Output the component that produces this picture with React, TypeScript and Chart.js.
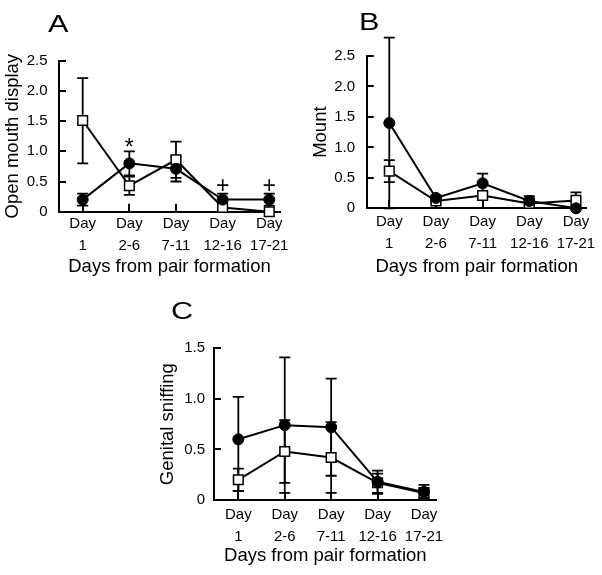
import React, { useEffect, useRef } from "react";
import { Chart, registerables } from "chart.js";

Chart.register(...registerables);

// ---------- data ----------
const dayLabels: string[][] = [
  ["Day", "1"],
  ["Day", "2-6"],
  ["Day", "7-11"],
  ["Day", "12-16"],
  ["Day", "17-21"],
];
const xAxisTitle = "Days from pair formation";

// A: Open mouth display
const openMouthFilled = [0.2, 0.8, 0.71, 0.2, 0.2];
const openMouthFilledLow = [0.1, 0.6, 0.5, 0.1, 0.1];
const openMouthFilledHigh = [0.3, 1.0, 0.91, 0.3, 0.3];
const openMouthOpen = [1.51, 0.43, 0.86, 0.07, 0.0];
const openMouthOpenLow = [0.8, 0.28, 0.56, 0.07, 0.0];
const openMouthOpenHigh = [2.21, 0.58, 1.16, 0.07, 0.0];
const openMouthMarkText = ["", "*", "", "+", "+"];
const openMouthMarkValue = [null, 1.16, null, 0.45, 0.45];
const openMouthTicks = [0, 0.5, 1, 1.5, 2, 2.5];

// B: Mount
const mountFilled = [1.4, 0.17, 0.41, 0.12, 0.0];
const mountFilledLow = [0.0, 0.13, 0.24, 0.05, 0.0];
const mountFilledHigh = [2.8, 0.21, 0.57, 0.2, 0.0];
const mountOpen = [0.61, 0.12, 0.21, 0.08, 0.13];
const mountOpenLow = [0.43, 0.09, 0.16, 0.05, 0.0];
const mountOpenHigh = [0.79, 0.15, 0.26, 0.11, 0.26];
const mountTicks = [0, 0.5, 1, 1.5, 2, 2.5];

// C: Genital sniffing
const sniffFilled = [0.6, 0.74, 0.72, 0.18, 0.08];
const sniffFilledLow = [0.09, 0.07, 0.24, 0.07, 0.01];
const sniffFilledHigh = [1.02, 1.41, 1.2, 0.29, 0.15];
const sniffOpen = [0.2, 0.48, 0.42, 0.17, 0.07];
const sniffOpenLow = [0.09, 0.17, 0.07, 0.06, 0.02];
const sniffOpenHigh = [0.31, 0.79, 0.77, 0.26, 0.12];
const sniffTicks = [0, 0.5, 1, 1.5];

const FONT = "'Liberation Sans', Arial, Helvetica, sans-serif";

type Series = { values: number[]; low: number[]; high: number[]; filled: boolean };

type PanelProps = {
  letter: string;
  yTitle: string;
  yTicks: number[];
  series: Series[];
  markText?: string[];
  markValue?: (number | null)[];
  geom: {
    left: number; top: number; w: number; h: number;
    pad: { left: number; top: number; right: number; bottom: number };
    yWidth: number; xHeight: number;
    yTitlePad: number; yTickPad: number; xTickPad: number;
    xMin: number; xMax: number;
    letterLeft: number; letterTop: number;
  };
};

function Panel(p: PanelProps) {
  const ref = useRef<HTMLCanvasElement>(null);
  useEffect(() => {
    if (!ref.current) return;
    const g = p.geom;
    const decor = {
      id: "decor" + p.letter,
      beforeDatasetsDraw(chart: any) {
        const { ctx, chartArea } = chart;
        const xs = chart.scales.x;
        const ys = chart.scales.y;
        ctx.save();
        ctx.strokeStyle = "#000";
        ctx.lineWidth = 2;
        ctx.beginPath();
        ys.ticks.forEach((t: any) => {
          const py = Math.round(ys.getPixelForValue(t.value));
          ctx.moveTo(chartArea.left, py);
          ctx.lineTo(chartArea.left + 7, py);
        });
        xs.ticks.forEach((t: any) => {
          const px = Math.round(xs.getPixelForValue(t.value));
          ctx.moveTo(px, chartArea.bottom);
          ctx.lineTo(px, chartArea.bottom - 8);
        });
        ctx.stroke();
        // error bars
        ctx.lineWidth = 1.8;
        p.series.forEach((s) => {
          s.values.forEach((v, i) => {
            const px = xs.getPixelForValue(i + 1);
            const lo = ys.getPixelForValue(s.low[i]);
            const hi = ys.getPixelForValue(s.high[i]);
            ctx.beginPath();
            ctx.moveTo(px, lo);
            ctx.lineTo(px, hi);
            if (s.high[i] > v) {
              ctx.moveTo(px - 5.5, hi);
              ctx.lineTo(px + 5.5, hi);
            }
            if (s.low[i] < v) {
              ctx.moveTo(px - 5.5, lo);
              ctx.lineTo(px + 5.5, lo);
            }
            ctx.stroke();
          });
        });
        ctx.restore();
      },
      afterDatasetsDraw(chart: any) {
        if (!p.markText || !p.markValue) return;
        const { ctx } = chart;
        const xs = chart.scales.x;
        const ys = chart.scales.y;
        ctx.save();
        ctx.fillStyle = "#000";
        ctx.textAlign = "center";
        const size = 23;
        ctx.font = `${size}px ${FONT}`;
        p.markText.forEach((txt, i) => {
          const val = p.markValue![i];
          if (!txt || val === null) return;
          const px = xs.getPixelForValue(i + 1);
          const py = ys.getPixelForValue(val);
          ctx.textBaseline = "alphabetic";
          ctx.fillText(txt, px, py + (txt === "*" ? 0.57 : 0.35) * size);
        });
        ctx.restore();
      },
    };

    const datasets = p.series.map((s) => ({
      data: s.values.map((v, i) => ({ x: i + 1, y: v })),
      borderColor: "#000",
      borderWidth: 2,
      pointStyle: s.filled ? "circle" : "rect",
      pointRadius: s.filled ? 5.5 : 6.8,
      pointBorderWidth: s.filled ? 1 : 1.5,
      pointBackgroundColor: s.filled ? "#000" : "#fff",
      pointBorderColor: "#000",
      tension: 0,
      clip: false as any,
      fill: false,
    }));

    const chart = new Chart(ref.current, {
      type: "line",
      data: { datasets },
      plugins: [decor],
      options: {
        responsive: false,
        animation: false,
        events: [],
        layout: { padding: g.pad },
        plugins: { legend: { display: false }, tooltip: { enabled: false } },
        scales: {
          x: {
            type: "linear",
            min: g.xMin,
            max: g.xMax,
            afterBuildTicks: (s: any) => {
              s.ticks = dayLabels.map((_, i) => ({ value: i + 1 }));
            },
            afterFit: (s: any) => {
              s.height = g.xHeight;
            },
            grid: { display: true, drawOnChartArea: false, drawTicks: false },
            border: { display: true, color: "#000", width: 2 },
            ticks: {
              autoSkip: false,
              maxRotation: 0,
              minRotation: 0,
              padding: g.xTickPad,
              color: "#000",
              font: { family: FONT, size: 15, lineHeight: 1.47 },
              callback: (v: any) => dayLabels[Math.round(Number(v)) - 1] ?? "",
            },
            title: {
              display: true,
              text: xAxisTitle,
              color: "#000",
              font: { family: FONT, size: 18.5, lineHeight: 1.2 },
              padding: { top: 0, bottom: 0 },
            },
          },
          y: {
            type: "linear",
            min: 0,
            max: p.yTicks[p.yTicks.length - 1],
            afterBuildTicks: (s: any) => {
              s.ticks = p.yTicks.map((v) => ({ value: v }));
            },
            afterFit: (s: any) => {
              s.width = g.yWidth;
            },
            grid: { display: true, drawOnChartArea: false, drawTicks: false },
            border: { display: true, color: "#000", width: 2 },
            ticks: {
              padding: g.yTickPad,
              color: "#000",
              font: { family: FONT, size: 15 },
            },
            title: {
              display: true,
              text: p.yTitle,
              color: "#000",
              font: { family: FONT, size: 18.5, lineHeight: 1.2 },
              padding: { top: g.yTitlePad, bottom: 0 },
            },
          },
        },
      } as any,
    });
    return () => chart.destroy();
  }, []);

  const g = p.geom;
  return (
    <>
      <canvas
        ref={ref}
        width={g.w}
        height={g.h}
        style={{ position: "absolute", left: g.left, top: g.top, width: g.w, height: g.h }}
      />
      <div
        style={{
          position: "absolute",
          left: g.letterLeft,
          top: g.letterTop,
          fontFamily: FONT,
          fontSize: 24.5,
          lineHeight: "24.5px",
          color: "#000",
          transform: "scaleX(1.25)",
          transformOrigin: "left top",
          whiteSpace: "nowrap",
        }}
      >
        {p.letter}
      </div>
    </>
  );
}

export default function App() {
  return (
    <div style={{ position: "absolute", left: 0, top: 0, width: 602, height: 575, background: "#fff" }}>
      <Panel
        letter="A"
        yTitle="Open mouth display"
        yTicks={openMouthTicks}
        series={[
          { values: openMouthFilled, low: openMouthFilledLow, high: openMouthFilledHigh, filled: true },
          { values: openMouthOpen, low: openMouthOpenLow, high: openMouthOpenHigh, filled: false },
        ]}
        markText={openMouthMarkText}
        markValue={openMouthMarkValue}
        geom={{
          left: 0, top: 0, w: 300, h: 280,
          pad: { left: 0, top: 60.7, right: 20, bottom: 2.2 },
          yWidth: 59, xHeight: 66.1,
          yTitlePad: 2.2, yTickPad: 11.5, xTickPad: 1.5,
          xMin: 0.492, xMax: 5.23,
          letterLeft: 48, letterTop: 11.8,
        }}
      />
      <Panel
        letter="B"
        yTitle="Mount"
        yTicks={mountTicks}
        series={[
          { values: mountFilled, low: mountFilledLow, high: mountFilledHigh, filled: true },
          { values: mountOpen, low: mountOpenLow, high: mountOpenHigh, filled: false },
        ]}
        geom={{
          left: 300, top: 0, w: 302, h: 285,
          pad: { left: 0, top: 56, right: 15.3, bottom: 6.9 },
          yWidth: 66.7, xHeight: 69.8,
          yTitlePad: 9.6, yTickPad: 11.7, xTickPad: 2.4,
          xMin: 0.516, xMax: 5.23,
          letterLeft: 358.8, letterTop: 10.1,
        }}
      />
      <Panel
        letter="C"
        yTitle="Genital sniffing"
        yTicks={sniffTicks}
        series={[
          { values: sniffFilled, low: sniffFilledLow, high: sniffFilledHigh, filled: true },
          { values: sniffOpen, low: sniffOpenLow, high: sniffOpenHigh, filled: false },
        ]}
        geom={{
          left: 150, top: 280, w: 300, h: 295,
          pad: { left: 0, top: 68.3, right: 13.3, bottom: 7.9 },
          yWidth: 64, xHeight: 67.1,
          yTitlePad: 7.2, yTickPad: 9, xTickPad: 4,
          xMin: 0.476, xMax: 5.274,
          letterLeft: 171, letterTop: 298.5,
        }}
      />
    </div>
  );
}
